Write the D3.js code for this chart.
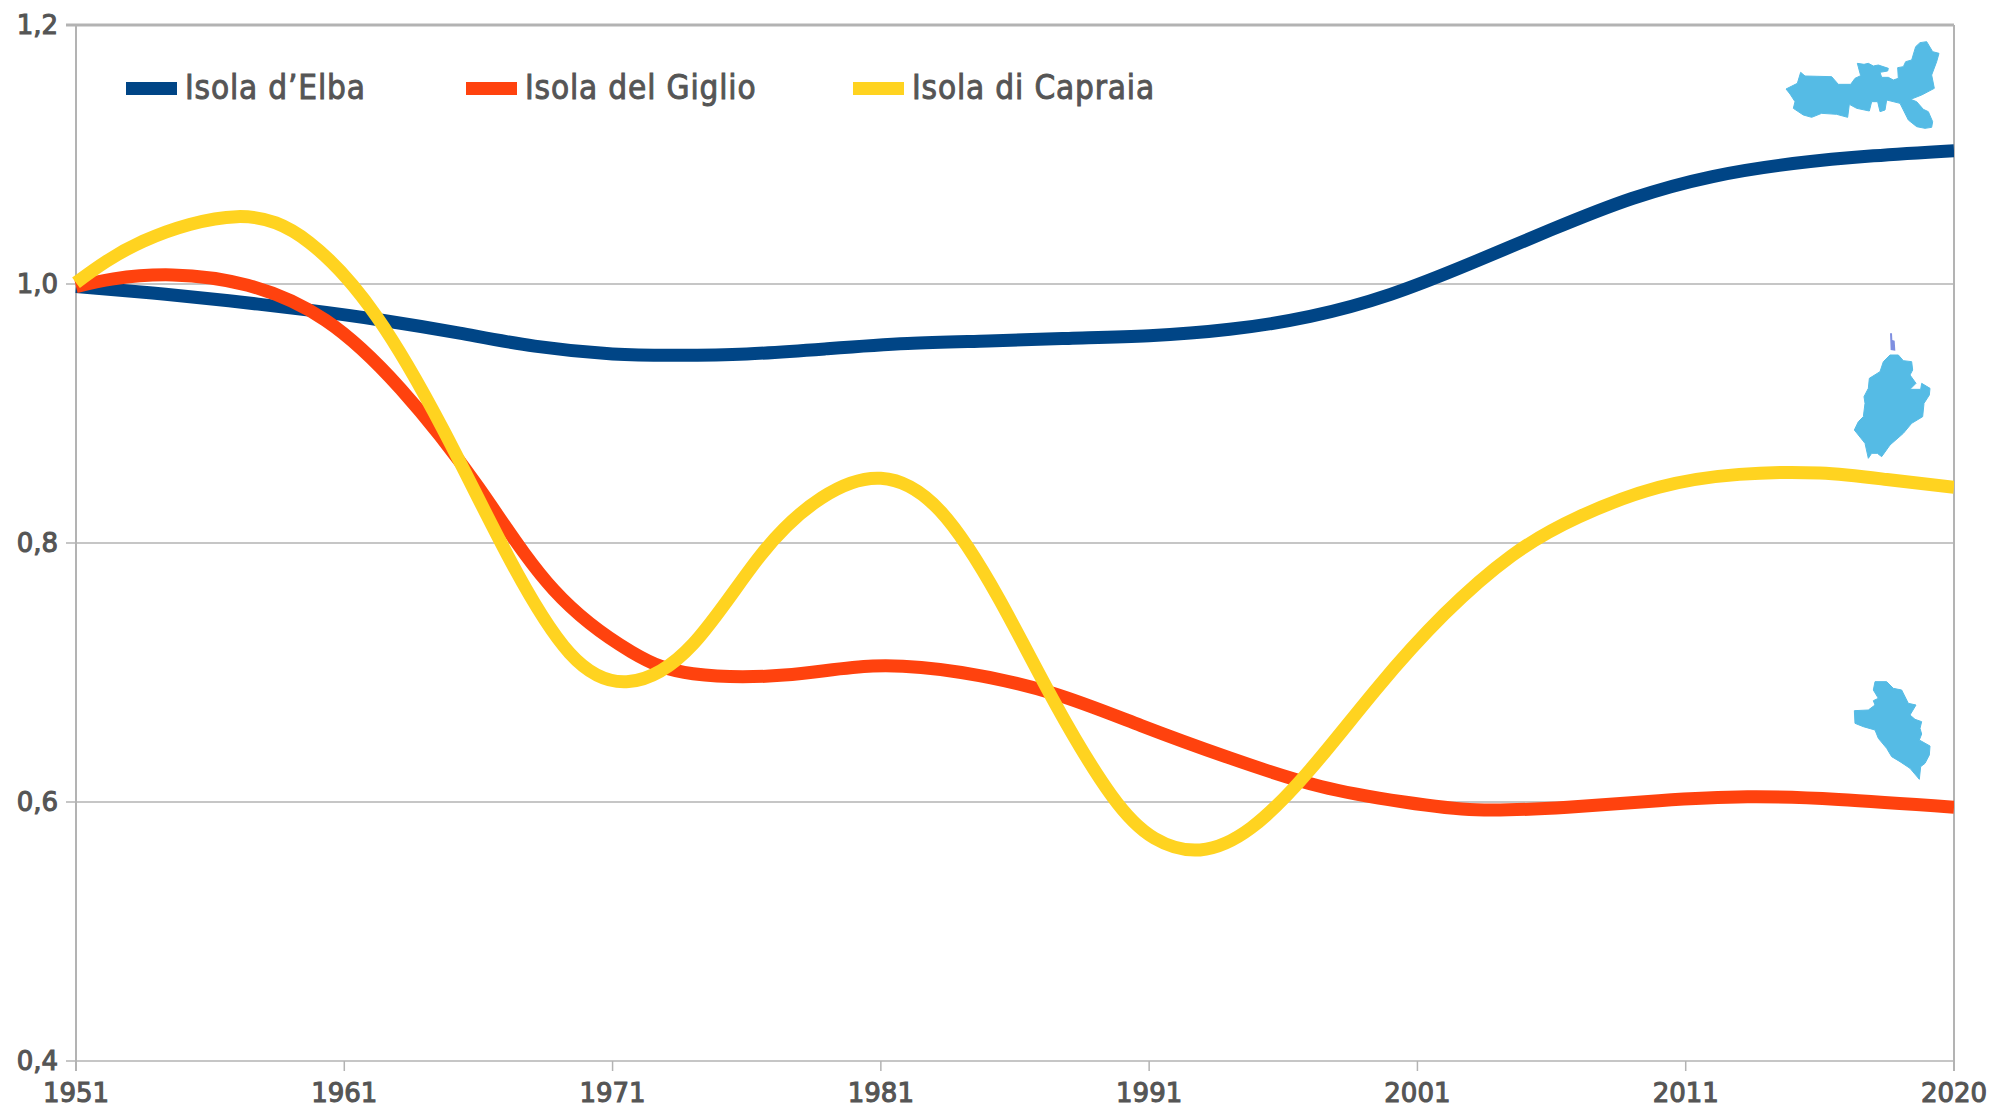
<!DOCTYPE html>
<html><head><meta charset="utf-8">
<script src="https://cdn.jsdelivr.net/npm/d3@7"></script>
<style>html,body{margin:0;padding:0;background:#fff}svg{display:block}text{font-family:"DejaVu Sans",sans-serif;fill:#555}</style>
</head><body><svg id="c" width="1991" height="1107"></svg>
<script>
const elbaYears=[1951,1953.85,1956.7,1959.6,1962.4,1965.3,1968.1,1971,1973.4,1976,1979,1982,1985,1988,1991,1994,1997,2000,2003,2006,2009,2012,2015,2018,2021];
const elbaValues=[.998,.993,.987,.98,.972,.962,.952,.946,.945,.946,.95,.954,.956,.958,.96,.965,.975,.992,1.016,1.042,1.066,1.083,1.093,1.099,1.103];
const giglioYears=[1951,1952.4,1954.6,1957.4,1960.3,1963.1,1966,1968.8,1971.7,1974,1977.4,1980.7,1984,1987.4,1990.7,1994,1997.4,2000.5,2003.2,2006.6,2010,2013.3,2016.7,2021];
const giglioValues=[.998,1.004,1.007,.999,.972,.919,.843,.764,.716,.699,.698,.705,.7,.684,.659,.634,.612,.600,.594,.596,.601,.604,.602,.596];
const capraiaYears=[1951,1953.5,1957,1959.7,1962.2,1964.7,1967.1,1969.4,1971.6,1974,1976.5,1978.8,1981,1983.2,1985.4,1987.5,1989.6,1991.2,1992.9,1994.8,1997,1999.5,2002,2004.5,2007,2010,2013,2016,2018.5,2021];
const capraiaValues=[1.001,1.033,1.052,1.032,.975,.887,.79,.715,.693,.722,.79,.835,.85,.825,.757,.676,.605,.572,.563,.58,.625,.688,.745,.79,.82,.843,.853,.854,.849,.843];
const xTickPositions=[1951,1961,1971,1981,1991,2001,2011,2021];
const xTickLabels=["1951","1961","1971","1981","1991","2001","2011","2020"];
const yTicks=[0.4,0.6,0.8,1.0,1.2];
const seriesNames=["Isola d’Elba","Isola del Giglio","Isola di Capraia"];
const seriesColors=["#004586","#ff420e","#ffd320"];
const legendX=[126,466,853];

const elbaShape=[[138,207],[172,190],[182,157],[195,168],[275,170],[295,193],[332,193],[345,175],[362,167],[352,130],[372,133],[385,130],[400,138],[415,135],[445,145],[443,153],[420,157],[425,172],[445,172],[460,180],[475,175],[473,143],[490,140],[497,125],[515,120],[527,80],[540,68],[560,65],[578,95],[597,100],[590,125],[575,165],[583,205],[545,225],[512,238],[530,245],[550,268],[565,275],[578,305],[575,322],[555,325],[530,320],[505,300],[480,250],[440,240],[435,270],[420,275],[413,245],[395,245],[388,273],[350,265],[328,253],[323,292],[290,283],[245,280],[215,292],[190,285],[160,265],[165,245],[150,222]];
const capraiaShape=[[163,330],[175,305],[190,290],[195,250],[192,230],[205,205],[208,175],[240,155],[250,125],[270,105],[295,105],[310,122],[335,125],[338,150],[330,165],[348,190],[330,208],[362,208],[365,190],[390,205],[388,225],[372,250],[368,290],[335,310],[310,340],[270,375],[245,410],[232,400],[215,400],[205,415],[195,370],[175,345]];
const capraiaIslet=[[270,40],[276,40],[277,60],[284,62],[286,92],[272,90]];
const giglioShape=[[103,152],[145,150],[165,135],[160,122],[175,115],[160,90],[165,65],[200,65],[220,85],[245,90],[265,130],[288,135],[270,165],[285,178],[305,185],[300,205],[305,222],[298,240],[330,258],[328,285],[315,310],[302,320],[298,358],[270,325],[240,305],[215,290],[200,265],[175,235],[165,210],[130,200],[105,190]];

const L=76,R=1954,T=25,B=1061;
const x=d3.scaleLinear().domain([1951,2021]).range([L,R]);
const y=d3.scaleLinear().domain([0.4,1.2]).range([B,T]);
const svg=d3.select("#c");
const defs=svg.append("defs");
defs.append("filter").attr("id","soft").append("feGaussianBlur").attr("stdDeviation",0.6);
defs.append("clipPath").attr("id","plot").append("rect").attr("x",L-8).attr("y",T).attr("width",R-L+8).attr("height",B-T);

const frame="#b3b3b3";
svg.append("g").selectAll("line").data(yTicks).join("line")
 .attr("x1",L-10).attr("x2",R).attr("y1",d=>y(d)).attr("y2",d=>y(d))
 .attr("stroke",frame).attr("stroke-width",d=>d===1.2?3:1.5);
svg.append("g").selectAll("line").data(xTickPositions).join("line")
 .attr("x1",d=>x(d)).attr("x2",d=>x(d)).attr("y1",B).attr("y2",B+10)
 .attr("stroke",frame).attr("stroke-width",1.5);
svg.append("line").attr("x1",L).attr("x2",L).attr("y1",T).attr("y2",B+10).attr("stroke",frame).attr("stroke-width",2);
svg.append("line").attr("x1",R).attr("x2",R).attr("y1",T).attr("y2",B+10).attr("stroke",frame).attr("stroke-width",2);

svg.append("g").selectAll("text").data(yTicks).join("text")
 .attr("x",58).attr("y",d=>y(d)+9).attr("text-anchor","end")
 .attr("font-size",26).attr("stroke","#555").attr("stroke-width",1.1)
 .text(d=>d.toFixed(1).replace(".",","));
svg.append("g").selectAll("text").data(xTickPositions).join("text")
 .attr("x",d=>x(d)).attr("y",1102).attr("text-anchor","middle")
 .attr("font-size",26).attr("stroke","#555").attr("stroke-width",1.1)
 .text((d,i)=>xTickLabels[i]);

const shape=(pts,ox,oy)=>"M"+pts.map(p=>[ox+p[0]/3,oy+p[1]/3].join(",")).join("L")+"Z";
const isl=svg.append("g").attr("filter","url(#soft)");
isl.append("path").attr("d",shape(elbaShape,1740,20)).attr("fill","#55bbe5").attr("stroke","#55bbe5").attr("stroke-width",1);
isl.append("path").attr("d",shape(capraiaShape,1800,320)).attr("fill","#55bbe5").attr("stroke","#55bbe5").attr("stroke-width",1);
isl.append("path").attr("d",shape(capraiaIslet,1800,320)).attr("fill","#7f8fe0");
isl.append("path").attr("d",shape(giglioShape,1820,660)).attr("fill","#55bbe5").attr("stroke","#55bbe5").attr("stroke-width",1);

const line=d3.line().x(d=>x(d[0])).y(d=>y(d[1])).curve(d3.curveNatural);
const zip=(a,b)=>a.map((v,i)=>[v,b[i]]);
const series=[zip(elbaYears,elbaValues),zip(giglioYears,giglioValues),zip(capraiaYears,capraiaValues)];
svg.append("g").attr("clip-path","url(#plot)").selectAll("path").data(series).join("path")
 .attr("d",line).attr("fill","none").attr("stroke",(d,i)=>seriesColors[i])
 .attr("stroke-width",13).attr("stroke-linejoin","round");

const leg=svg.append("g").selectAll("g").data(seriesNames).join("g");
leg.append("rect").attr("x",(d,i)=>legendX[i]).attr("y",82).attr("width",51).attr("height",13).attr("fill",(d,i)=>seriesColors[i]);
leg.append("text").attr("x",(d,i)=>legendX[i]+59).attr("y",99)
 .attr("font-family","'DejaVu Sans Condensed','DejaVu Sans',sans-serif").attr("font-stretch","condensed")
 .attr("font-size",33).attr("letter-spacing",0.85).attr("stroke","#555").attr("stroke-width",0.9).text(d=>d);
</script></body></html>
